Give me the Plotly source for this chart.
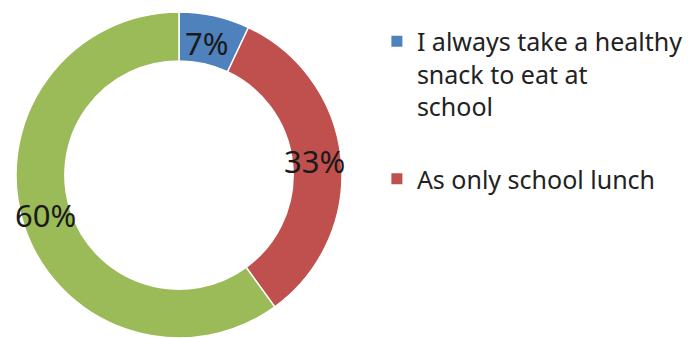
import math
import plotly.graph_objects as go

labels = ["I always take a healthy snack to eat at school", "As only school lunch", "Other"]
legend_text = ["I always take a healthy<br>snack to eat at<br>school", "As only school lunch"]
values = [7, 33, 60]
colors = ["#4F81BD", "#C0504D", "#9BBB59"]

W, H = 689, 338
MT = 12
cx_px, R = 179, (H - MT) / 2
cy_px = MT + R
HOLE = 0.70

fig = go.Figure()
fig.add_trace(go.Pie(
    labels=labels, values=values, hole=HOLE, sort=False, direction="clockwise", rotation=0,
    marker=dict(colors=colors, line=dict(color="white", width=1.5)),
    textinfo="none",
    domain=dict(x=[(cx_px - R) / W, (cx_px + R) / W], y=[0, 1]),
    showlegend=False, hoverinfo="label+percent",
))

# percentage labels at the middle of each ring segment
total = sum(values)
cum = 0
r_mid = R * (1 + HOLE) / 2
for v in values:
    mid = (cum + v / 2) / total * 2 * math.pi
    cum += v
    px = cx_px + r_mid * math.sin(mid)
    py = cy_px - r_mid * math.cos(mid)
    fig.add_annotation(
        x=px / W, y=1 - py / H, xref="paper", yref="paper", yanchor="middle", xanchor="center",
        xshift=-2, yshift=7,
        text=f"{round(v / total * 100)}%", showarrow=False,
        font=dict(family="Noto Sans", size=31, color="#1a1a1a"),
    )

for i, t in enumerate(legend_text):
    fig.add_trace(go.Scatter(
        x=[None], y=[None], mode="markers", name=t, legendgroup=str(i),
        marker=dict(symbol="square", size=11, color=colors[i]),
    ))

fig.update_layout(
    width=W, height=H, margin=dict(l=0, r=0, t=MT, b=0),
    paper_bgcolor="white", plot_bgcolor="white",
    xaxis=dict(visible=False), yaxis=dict(visible=False),
    legend=dict(x=0.547, y=0.98, xanchor="left", yanchor="top", valign="top",
                font=dict(family="Noto Sans", size=25, color="#222222"),
                tracegroupgap=37, bgcolor="rgba(0,0,0,0)"),
)
fig.write_html("out.html")
